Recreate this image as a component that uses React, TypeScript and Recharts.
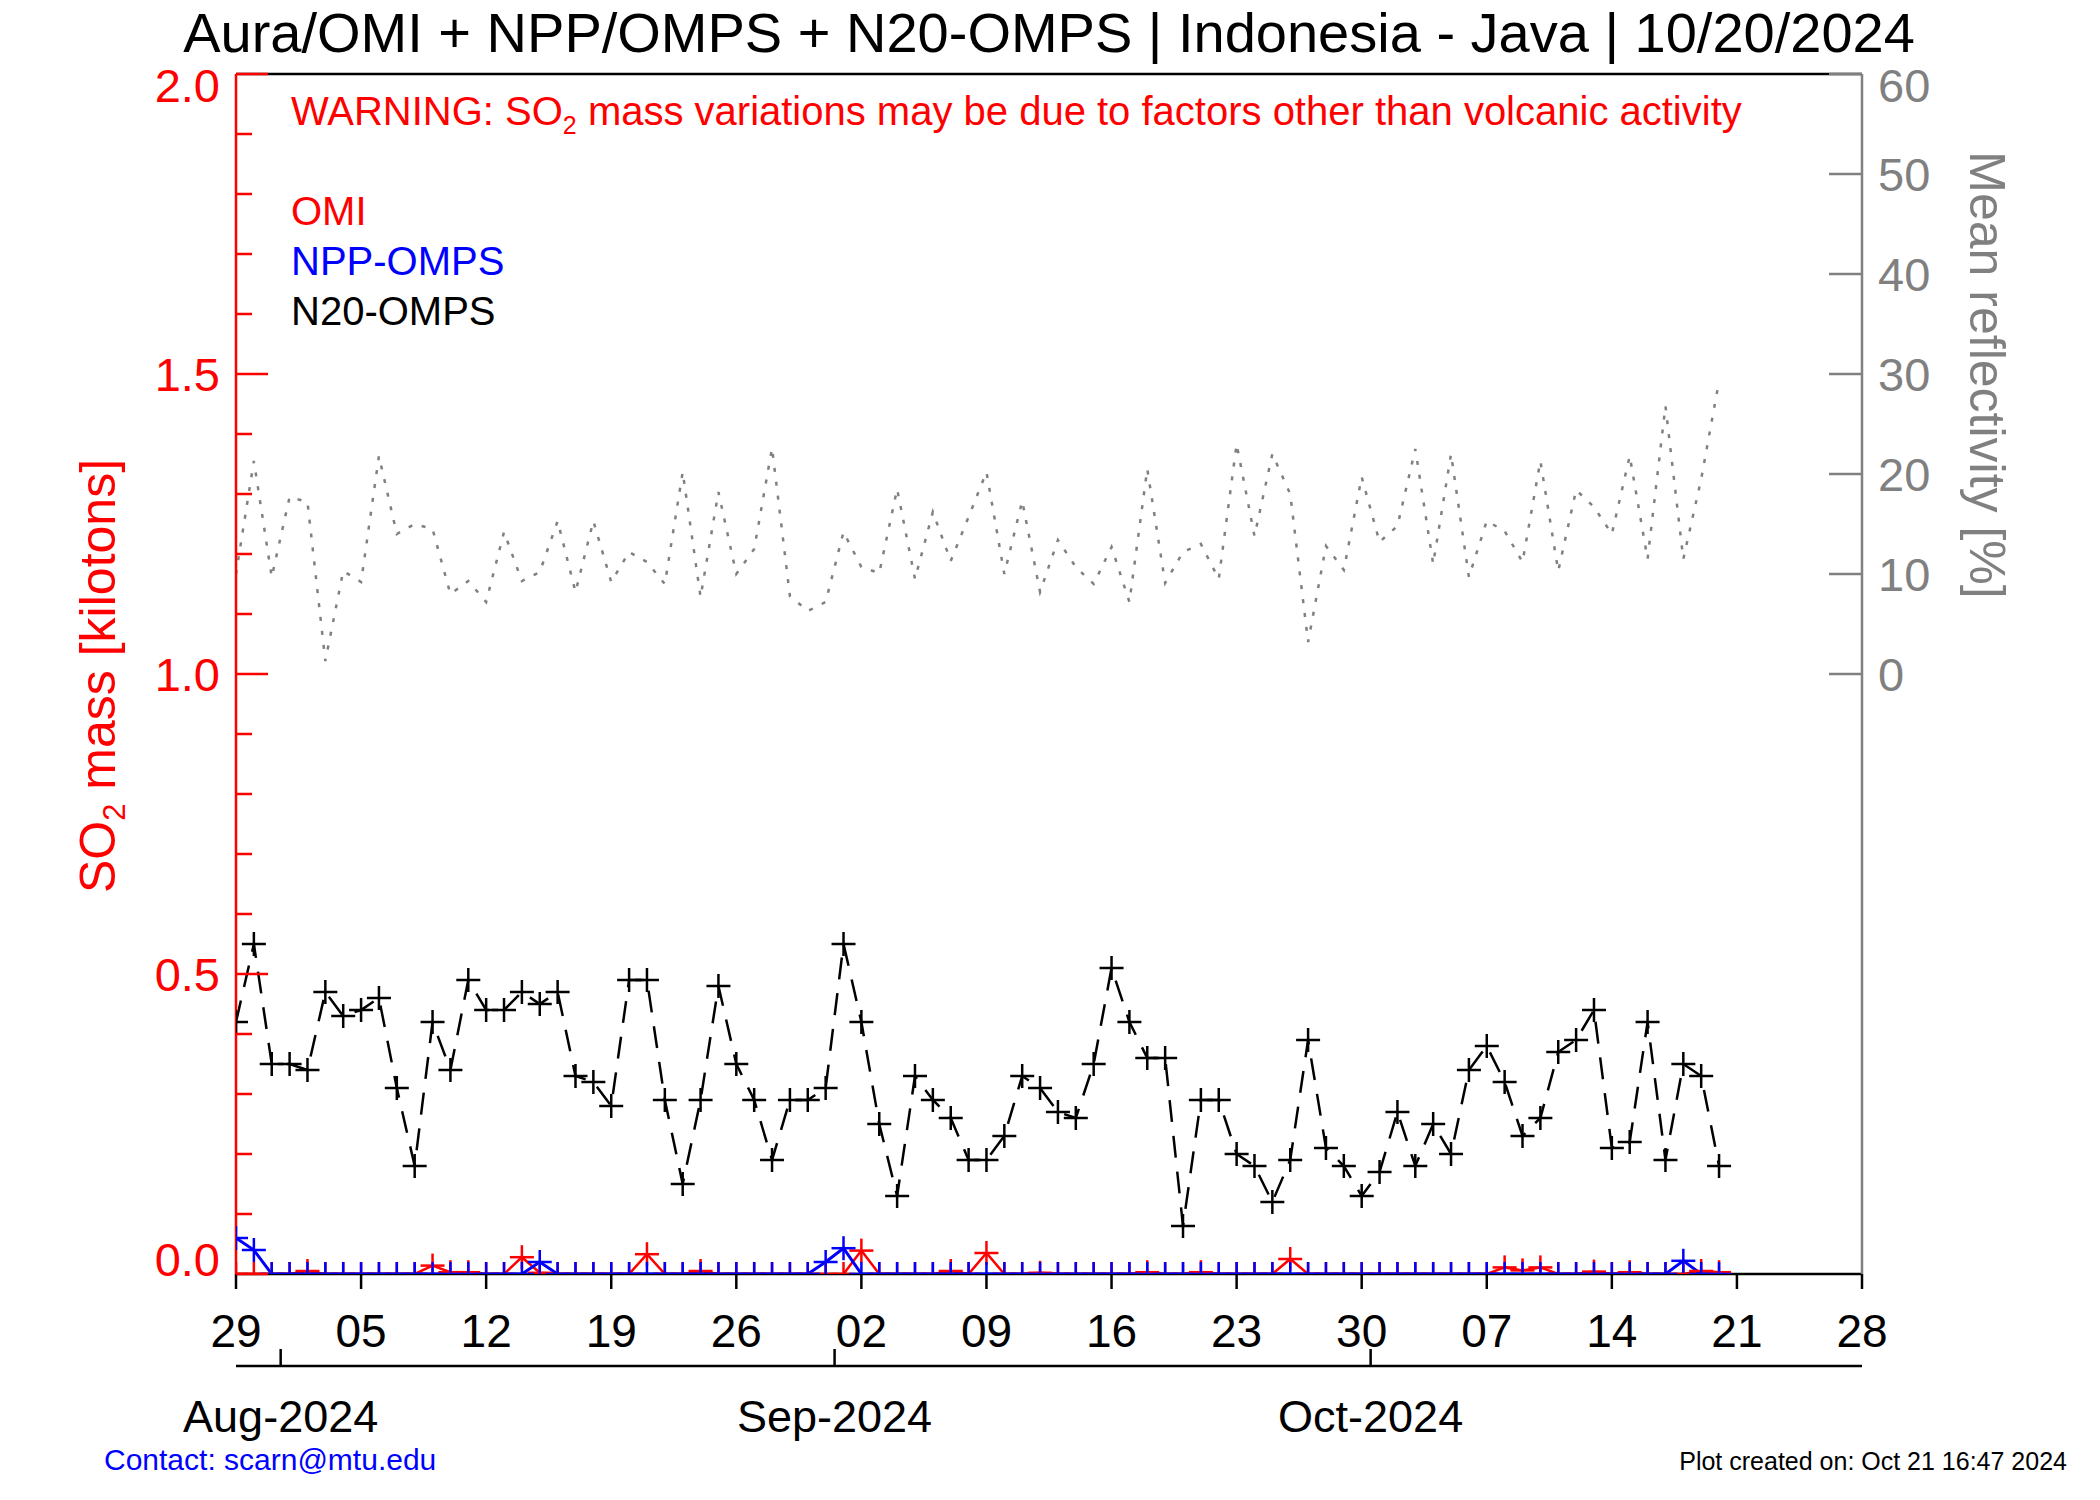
import React from 'react';
import { ComposedChart, Line, XAxis, YAxis } from 'recharts';

const FONT = '"Liberation Sans", Arial, Helvetica, sans-serif';
const RED = '#ff0000';
const BLUE = '#0000ff';
const GRAY = '#808080';

// x = days since 2024-07-29 (data at each day, month starts fall half a day earlier)
const WEEK_TICKS = [0, 7, 14, 21, 28, 35, 42, 49, 56, 63, 70, 77, 84, 91];
const WEEK_LABELS = ['29', '05', '12', '19', '26', '02', '09', '16', '23', '30', '07', '14', '21', '28'];
const MONTH_TICKS = [2.5, 33.5, 63.5];
const MONTH_LABELS = ['Aug-2024', 'Sep-2024', 'Oct-2024'];

const SO2_TICKS = [0, 0.1, 0.2, 0.3, 0.4, 0.5, 0.6, 0.7, 0.8, 0.9, 1.0, 1.1, 1.2, 1.3, 1.4, 1.5, 1.6, 1.7, 1.8, 1.9, 2.0];
const REFL_TICKS = [0, 10, 20, 30, 40, 50, 60];

// SO2 mass [kt], one value per day from Jul 29 to Oct 20
const N20 = [
  0.42, 0.55, 0.35, 0.35, 0.34, 0.47, 0.43, 0.44, 0.46, 0.31, 0.18, 0.42, 0.34, 0.49,
  0.44, 0.44, 0.47, 0.45, 0.47, 0.33, 0.32, 0.28, 0.49, 0.49, 0.29, 0.15, 0.29, 0.48,
  0.35, 0.29, 0.19, 0.29, 0.29, 0.31, 0.55, 0.42, 0.25, 0.13, 0.33, 0.29, 0.26, 0.19,
  0.19, 0.23, 0.33, 0.31, 0.27, 0.26, 0.35, 0.51, 0.42, 0.36, 0.36, 0.08, 0.29, 0.29,
  0.2, 0.18, 0.12, 0.19, 0.39, 0.21, 0.18, 0.13, 0.17, 0.27, 0.18, 0.25, 0.2, 0.34,
  0.38, 0.32, 0.23, 0.26, 0.37, 0.39, 0.44, 0.21, 0.22, 0.42, 0.19, 0.35, 0.33, 0.18,
];
const NPP = [
  0.06, 0.04, 0, 0, 0, 0, 0, 0, 0, 0, 0, 0, 0, 0,
  0, 0, 0, 0.02, 0, 0, 0, 0, 0, 0, 0, 0, 0, 0,
  0, 0, 0, 0, 0, 0.02, 0.043, 0, 0, 0, 0, 0, 0, 0,
  0, 0, 0, 0, 0, 0, 0, 0, 0, 0, 0, 0, 0, 0,
  0, 0, 0, 0, 0, 0, 0, 0, 0, 0, 0, 0, 0, 0,
  0, 0, 0, 0, 0, 0, 0, 0, 0, 0, 0, 0.022, 0, 0,
];
const OMI = [
  0, 0, 0, 0, 0.005, 0, 0, 0, 0, 0, 0, 0.014, 0.003, 0.003,
  0, 0, 0.028, 0.002, 0, 0, 0, 0, 0, 0.033, 0, 0, 0.005, 0,
  0, 0, 0, 0, 0, 0, 0, 0.039, 0, 0, 0, 0, 0.005, 0,
  0.035, 0, 0, 0.002, 0, 0, 0, 0, 0, 0.003, 0, 0, 0.003, 0,
  0, 0, 0, 0.025, 0, 0, 0, 0, 0, 0, 0, 0, 0, 0,
  0, 0.011, 0.006, 0.011, 0, 0, 0.004, 0, 0.003, 0, 0, 0, 0.005, 0.003,
];
// mean reflectivity [%]
const REFL = [
  10.0, 21.3, 9.7, 17.7, 17.2, 1.3, 10.3, 9.2, 21.8, 14.0, 15.0, 14.5, 8.0, 9.3,
  7.2, 14.2, 9.3, 10.2, 15.3, 8.2, 15.3, 9.2, 12.2, 11.2, 9.0, 20.2, 7.7, 18.2,
  10.0, 12.5, 22.6, 7.8, 6.3, 7.2, 14.2, 10.7, 10.1, 18.5, 9.5, 16.2, 11.3, 15.7,
  20.2, 10.0, 17.3, 8.2, 13.4, 10.7, 9.0, 12.7, 7.2, 20.5, 9.1, 12.2, 13.0, 9.5,
  23.0, 13.8, 22.0, 18.0, 3.2, 12.8, 10.4, 19.7, 13.2, 14.8, 22.5, 11.0, 22.0, 9.7,
  15.3, 14.3, 11.2, 21.3, 10.3, 18.4, 16.7, 14.0, 21.8, 11.5, 26.8, 11.5, 19.5, 29.3,
];

const data = N20.map((v, i) => ({ day: i, n20: v, npp: NPP[i], omi: OMI[i], refl: REFL[i] }));

const plusDot = (color: string) => (props: any) => {
  const { cx, cy, index } = props;
  if (cx == null || cy == null || isNaN(cy)) return <g key={`d-${index}`} />;
  return (
    <g key={`d-${index}`}>
      <line x1={cx - 12} x2={cx + 12} y1={cy} y2={cy} stroke={color} strokeWidth={2.5} strokeDasharray="none" />
      <line x1={cx} x2={cx} y1={cy - 12} y2={cy + 12} stroke={color} strokeWidth={2.5} strokeDasharray="none" />
    </g>
  );
};

const So2Tick = (props: any) => {
  const { x, y, payload } = props;
  const v = payload.value;
  const major = Math.abs(v * 2 - Math.round(v * 2)) < 1e-6;
  const shift = v > 1.99 ? 11 : v < 0.01 ? -15 : 0;
  return (
    <g>
      <line x1={x} x2={x + (major ? 32 : 16)} y1={y} y2={y} stroke={RED} strokeWidth={2.5} />
      {major && (
        <text x={x - 16} y={y + shift} dy="0.36em" textAnchor="end" fill={RED} fontSize={47} fontFamily={FONT}>
          {v.toFixed(1)}
        </text>
      )}
    </g>
  );
};

const ReflTick = (props: any) => {
  const { x, y, payload } = props;
  const shift = payload.value === 60 ? 11 : 0;
  return (
    <g>
      <line x1={x} x2={x - 33} y1={y} y2={y} stroke={GRAY} strokeWidth={2.5} />
      <text x={x + 16} y={y + shift} dy="0.36em" textAnchor="start" fill={GRAY} fontSize={47} fontFamily={FONT}>
        {payload.value}
      </text>
    </g>
  );
};

const MonthTick = (props: any) => {
  const { x, y, payload } = props;
  return (
    <g>
      <line x1={x} x2={x} y1={y} y2={y - 17} stroke="#000" strokeWidth={2.5} />
      <text x={x} y={y + 66} textAnchor="middle" fill="#000" fontSize={45} fontFamily={FONT}>
        {MONTH_LABELS[MONTH_TICKS.indexOf(payload.value)]}
      </text>
    </g>
  );
};

const App: React.FC = () => {
  return (
    <div style={{ position: 'absolute', left: 0, top: 0, width: 2100, height: 1500, background: '#fff' }}>
      <ComposedChart width={2100} height={1500} data={data} margin={{ top: 0, right: 0, bottom: 0, left: 0 }}>
        <XAxis
          xAxisId="main"
          dataKey="day"
          type="number"
          domain={[0, 91]}
          ticks={WEEK_TICKS}
          interval={0}
          height={92}
          tickSize={15}
          tickMargin={25}
          tickFormatter={(v: number) => WEEK_LABELS[WEEK_TICKS.indexOf(v)]}
          tick={{ fill: '#000', fontSize: 46, fontFamily: FONT }}
          tickLine={{ stroke: '#000', strokeWidth: 2.5 }}
          axisLine={{ stroke: '#000', strokeWidth: 2.5 }}
          allowDataOverflow
        />
        <XAxis
          xAxisId="month"
          dataKey="day"
          type="number"
          domain={[0, 91]}
          ticks={MONTH_TICKS}
          interval={0}
          height={134}
          tickSize={0}
          tickMargin={0}
          tick={MonthTick}
          tickLine={false}
          axisLine={{ stroke: '#000', strokeWidth: 2.5 }}
        />
        <XAxis
          xAxisId="top"
          orientation="top"
          dataKey="day"
          type="number"
          domain={[0, 91]}
          ticks={WEEK_TICKS}
          interval={0}
          height={74}
          tickSize={16}
          tick={false}
          tickLine={{ stroke: '#000', strokeWidth: 2.5 }}
          axisLine={{ stroke: '#000', strokeWidth: 2.5 }}
        />
        <YAxis
          yAxisId="so2"
          orientation="left"
          type="number"
          domain={[0, 2]}
          ticks={SO2_TICKS}
          interval={0}
          width={236}
          tickSize={0}
          tickMargin={0}
          tick={So2Tick}
          tickLine={false}
          axisLine={{ stroke: RED, strokeWidth: 2.5 }}
          allowDataOverflow
        />
        <YAxis
          yAxisId="refl"
          orientation="right"
          type="number"
          domain={[-60, 60]}
          ticks={REFL_TICKS}
          interval={0}
          width={238}
          tickSize={0}
          tickMargin={0}
          tick={ReflTick}
          tickLine={false}
          axisLine={{ stroke: GRAY, strokeWidth: 2.5 }}
          allowDataOverflow
        />
        <Line xAxisId="main" yAxisId="refl" dataKey="refl" type="linear" stroke={GRAY} strokeWidth={2.5}
          strokeDasharray="4 10" dot={false} activeDot={false} isAnimationActive={false} />
        <Line xAxisId="main" yAxisId="so2" dataKey="omi" type="linear" stroke={RED} strokeWidth={2.5}
          dot={plusDot(RED)} activeDot={false} isAnimationActive={false} />
        <Line xAxisId="main" yAxisId="so2" dataKey="npp" type="linear" stroke={BLUE} strokeWidth={3}
          dot={plusDot(BLUE)} activeDot={false} isAnimationActive={false} />
        <Line xAxisId="main" yAxisId="so2" dataKey="n20" type="linear" stroke="#000" strokeWidth={2.5}
          strokeDasharray="22 14" dot={plusDot('#000')} activeDot={false} isAnimationActive={false} />
      </ComposedChart>

      <svg width={2100} height={1500} style={{ position: 'absolute', left: 0, top: 0, pointerEvents: 'none' }} fontFamily={FONT}>
        <text x={1049} y={52} textAnchor="middle" fontSize={56} fill="#000">
          Aura/OMI + NPP/OMPS + N20-OMPS | Indonesia - Java | 10/20/2024
        </text>
        <text x={291} y={125} fontSize={40} fill={RED}>
          WARNING: SO<tspan fontSize={25} dy={9}>2</tspan>
          <tspan dy={-9}> mass variations may be due to factors other than volcanic activity</tspan>
        </text>
        <text x={291} y={225} fontSize={40} fill={RED}>OMI</text>
        <text x={291} y={275} fontSize={40} fill={BLUE}>NPP-OMPS</text>
        <text x={291} y={325} fontSize={40} fill="#000">N20-OMPS</text>
        <text x={115} y={676} transform="rotate(-90 115 676)" textAnchor="middle" fontSize={50} fill={RED}>
          SO<tspan fontSize={31} dy={10}>2</tspan>
          <tspan dy={-10}> mass [kilotons]</tspan>
        </text>
        <text x={1970} y={375} transform="rotate(90 1970 375)" textAnchor="middle" fontSize={50} fill={GRAY}>
          Mean reflectivity [%]
        </text>
        <text x={104} y={1470} fontSize={30} fill={BLUE}>Contact: scarn@mtu.edu</text>
        <text x={2067} y={1470} textAnchor="end" fontSize={25} fill="#000">Plot created on: Oct 21 16:47 2024</text>
      </svg>
    </div>
  );
};

export default App;
